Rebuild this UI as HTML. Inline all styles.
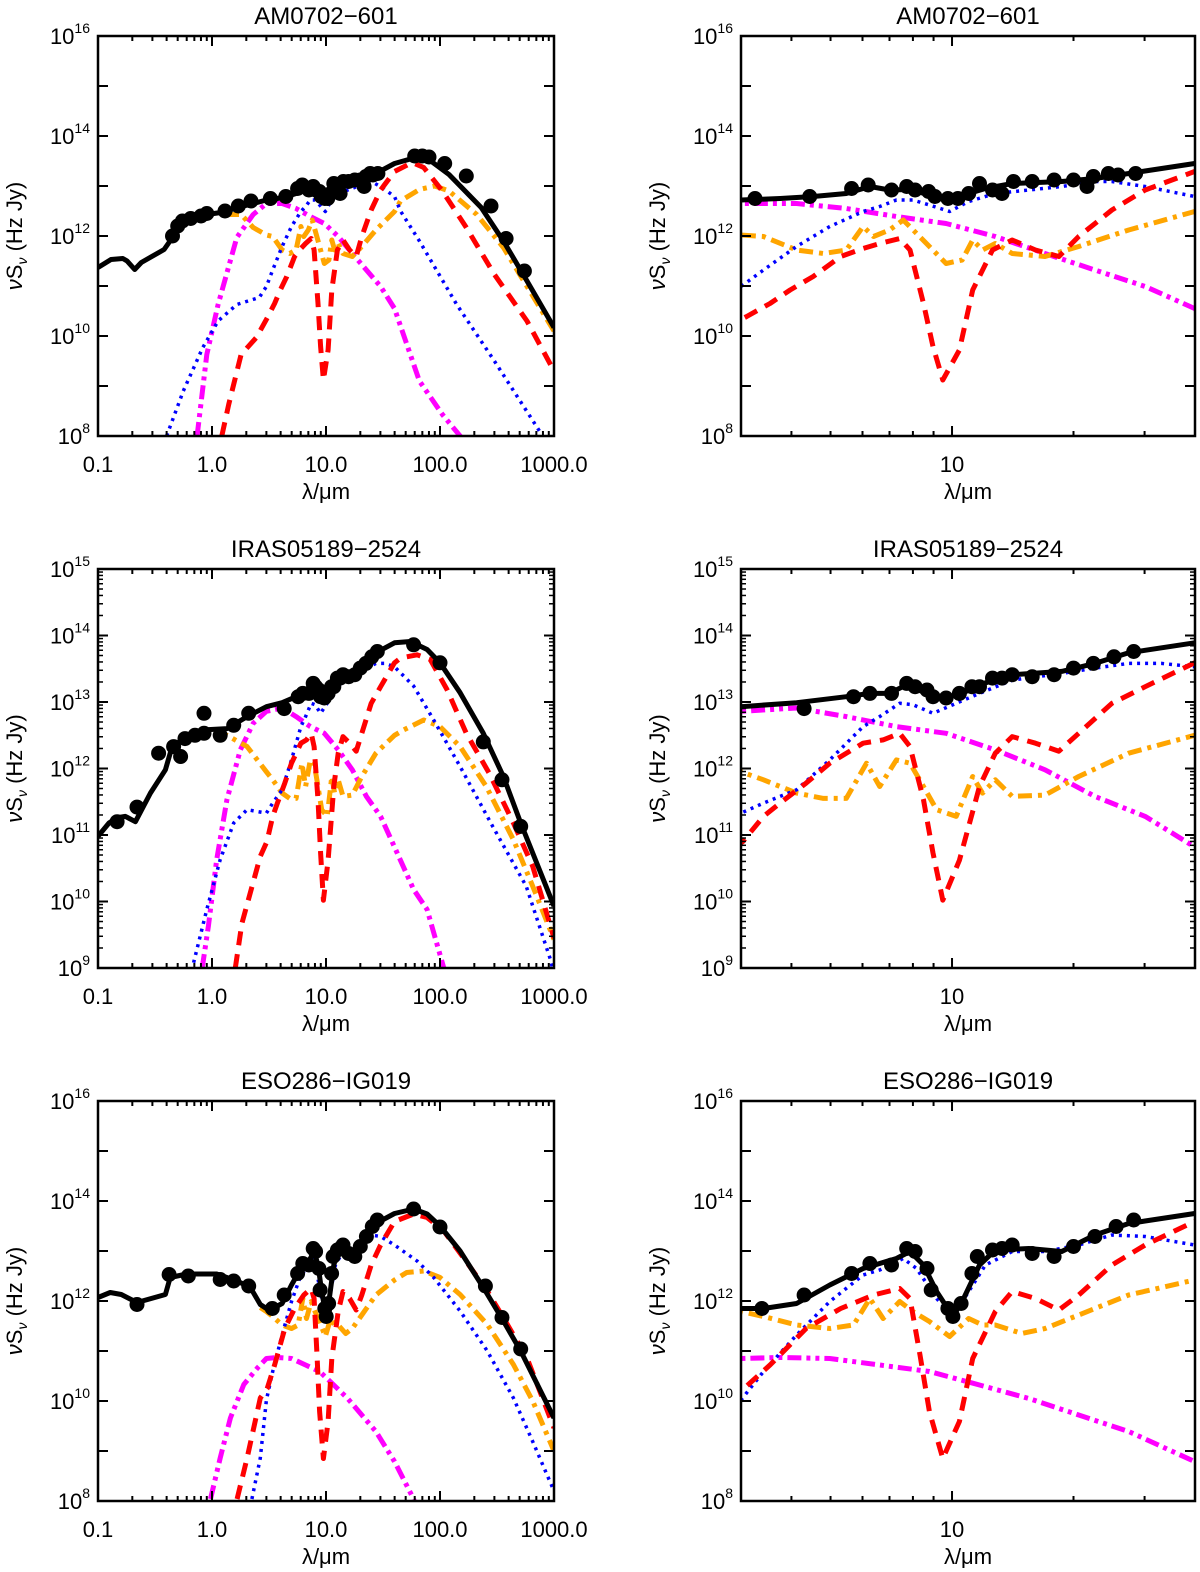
<!DOCTYPE html>
<html><head><meta charset="utf-8"><style>
body{margin:0;background:#fff}
svg{display:block;font-family:"Liberation Sans",sans-serif}
</style></head><body>
<svg id="fig" width="1200" height="1572" viewBox="0 0 1200 1572" xmlns="http://www.w3.org/2000/svg"></svg>
<script>
// ---------- data (lambda in micron, log10 nuSnu) ----------
const titles = ["AM0702\u2212601","IRAS05189\u22122524","ESO286\u2212IG019"];
const yRanges = [[8,16],[9,15],[8,16]];
const yLabelStep = [2,1,2];

const black1=[[0.1,11.37],[0.13,11.53],[0.165,11.55],[0.18,11.5],[0.21,11.33],[0.24,11.47],[0.38,11.73],[0.45,11.97],[0.56,12.3],[0.9,12.43],[1.2,12.47],[1.9,12.6],[3.0,12.72],[3.75,12.75],[4.53,12.79],[5.47,12.85],[6.26,12.99],[7.0,12.92],[7.87,12.93],[8.79,12.82],[9.86,12.69],[11.0,12.85],[12.1,12.95],[14.1,13.05],[18.7,13.09],[22.6,13.15],[27.4,13.25],[39.9,13.45],[57,13.55],[83,13.5],[120,13.23],[230,12.57],[360,11.9],[580,11.1],[1000,10.17]];
const pts1=[[0.45,12.0],[0.5,12.2],[0.55,12.3],[0.65,12.35],[0.8,12.4],[0.9,12.45],[1.3,12.5],[1.7,12.6],[2.2,12.7],[3.25,12.75],[4.44,12.79],[5.64,12.95],[6.2,13.02],[7.08,12.92],[7.72,12.99],[8.1,12.92],[8.75,12.89],[9.07,12.79],[9.77,12.75],[10.34,12.75],[11.0,12.85],[11.7,13.05],[12.6,12.92],[13.3,12.85],[14.2,13.09],[15.8,13.09],[17.9,13.12],[20.0,13.12],[21.6,12.99],[22.4,13.19],[24.4,13.25],[25.8,13.22],[28.5,13.25],[60,13.6],[70,13.6],[80,13.58],[110,13.45],[170,13.2],[280,12.6],[380,11.95],[550,11.3]];
const red1=[[1.22,8],[1.4,8.63],[1.8,9.63],[2.45,9.97],[3.1,10.39],[3.54,10.65],[3.97,10.92],[4.53,11.19],[5.3,11.59],[6.02,11.75],[6.62,11.85],[7.42,11.95],[7.87,11.72],[8.5,10.65],[8.97,9.79],[9.49,9.12],[10.43,9.72],[11.25,10.92],[12.6,11.72],[14.1,11.92],[16.1,11.72],[18.4,11.59],[20.6,11.99],[24.9,12.52],[30.1,12.92],[39.9,13.29],[57,13.47],[72,13.37],[105,12.9],[170,12.17],[300,11.23],[580,10.3],[1000,9.3]];
const blue1=[[0.4,8],[0.56,8.9],[0.83,9.77],[1.13,10.3],[1.65,10.63],[2.6,10.77],[3.0,10.99],[3.41,11.32],[4.12,11.79],[4.98,12.19],[6.02,12.49],[6.62,12.59],[7.28,12.72],[8.0,12.72],[8.79,12.62],[9.86,12.49],[11.0,12.69],[12.8,12.85],[15.5,12.92],[18.7,12.99],[22.6,13.09],[24.9,13.09],[30.1,12.99],[39.9,12.79],[45,12.5],[66,11.9],[140,10.63],[300,9.5],[780,8.03],[1000,7.6]];
const orange1=[[1.3,12.43],[1.8,12.43],[2.3,12.17],[3.0,12.02],[3.41,11.99],[4.12,11.72],[4.8,11.65],[5.47,11.72],[6.02,12.19],[6.39,11.99],[7.0,12.12],[7.57,12.32],[8.17,12.05],[8.79,11.79],[9.67,11.45],[10.6,11.52],[11.25,11.92],[11.9,11.72],[12.8,11.85],[14.1,11.65],[17.0,11.59],[20.6,11.79],[27.4,12.12],[39.9,12.49],[45,12.7],[66,12.93],[90,13.0],[120,12.9],[210,12.43],[360,11.77],[1000,10.1]];
const magenta1=[[0.74,8],[0.9,9.63],[1.13,10.63],[1.65,11.97],[2.3,12.43],[3.0,12.65],[4.12,12.65],[5.47,12.55],[7.28,12.39],[9.67,12.25],[12.8,11.99],[17.0,11.65],[22.6,11.32],[30.1,10.99],[39.9,10.55],[66,9.1],[105,8.43],[150,8],[200,7.5]];

const black2=[[0.1,10.98],[0.125,11.18],[0.147,11.26],[0.174,11.28],[0.213,11.2],[0.288,11.63],[0.39,11.98],[0.43,12.23],[0.56,12.48],[0.85,12.58],[1.35,12.6],[2.03,12.78],[3.0,12.93],[4.12,12.99],[5.47,13.08],[6.26,13.13],[7.0,13.13],[7.72,13.26],[8.79,13.11],[9.67,13.06],[10.6,13.13],[11.7,13.26],[14.1,13.41],[18.7,13.46],[22.6,13.58],[27.4,13.74],[39.9,13.89],[55,13.91],[77,13.79],[100,13.59],[150,13.14],[240,12.53],[360,11.88],[510,11.18],[1000,9.93]];
const pts2=[[0.147,11.2],[0.22,11.42],[0.34,12.23],[0.46,12.33],[0.53,12.18],[0.58,12.45],[0.71,12.5],[0.85,12.53],[0.85,12.83],[1.18,12.5],[1.55,12.65],[2.1,12.83],[4.3,12.9],[5.7,13.08],[6.26,13.13],[7.08,13.13],[7.72,13.28],[8.1,13.23],[8.67,13.18],[8.97,13.08],[9.67,13.06],[10.43,13.13],[11.2,13.23],[11.7,13.23],[12.6,13.36],[13.3,13.36],[14.1,13.41],[15.8,13.38],[17.9,13.41],[20.0,13.51],[22.4,13.58],[25.2,13.68],[28.2,13.76],[58.7,13.86],[100,13.59],[240,12.4],[350,11.83],[510,11.13]];
const red2=[[1.6,9.0],[1.83,9.67],[2.65,10.68],[3.03,10.9],[3.41,11.28],[3.75,11.48],[4.35,11.78],[4.98,12.08],[6.02,12.38],[6.75,12.43],[7.42,12.53],[7.87,12.33],[8.5,11.53],[8.97,10.73],[9.49,10.02],[10.43,10.62],[11.7,11.73],[12.8,12.23],[14.1,12.48],[16.1,12.38],[18.4,12.26],[20.6,12.53],[24.9,12.98],[30.1,13.23],[39.9,13.59],[45,13.66],[63,13.71],[82,13.64],[115,13.19],[170,12.53],[270,11.93],[440,11.18],[650,10.53],[1000,9.45]];
const blue2=[[0.69,9.08],[0.9,9.88],[1.18,10.63],[1.55,11.18],[2.03,11.38],[3.0,11.33],[3.41,11.48],[4.12,11.68],[4.98,12.13],[6.02,12.63],[6.62,12.78],[7.42,12.98],[8.0,12.96],[8.97,12.83],[10.24,12.98],[11.7,13.13],[14.1,13.33],[18.7,13.43],[22.6,13.51],[27.4,13.58],[33.0,13.58],[39.9,13.53],[58.7,13.24],[88,12.73],[150,12.03],[290,11.13],[570,10.23],[930,9.13],[1000,8.9]];
const orange2=[[1.03,12.53],[1.35,12.5],[2.03,12.33],[3.0,11.95],[3.41,11.83],[4.12,11.63],[4.8,11.55],[5.47,11.55],[6.14,12.08],[6.62,11.73],[7.28,12.13],[7.87,12.08],[8.5,11.73],[9.16,11.38],[10.24,11.28],[11.25,11.88],[11.9,11.63],[12.8,11.83],[14.1,11.58],[17.0,11.6],[20.6,11.88],[27.4,12.23],[39.9,12.5],[48,12.58],[72,12.73],[100,12.63],[150,12.33],[255,11.73],[440,10.93],[650,10.23],[1000,9.43]];
const magenta2=[[0.82,9.0],[0.93,9.63],[1.1,10.63],[1.35,11.53],[1.77,12.28],[2.3,12.68],[3.0,12.86],[4.12,12.91],[5.47,12.78],[7.28,12.63],[9.67,12.53],[12.8,12.28],[17.0,11.98],[22.6,11.58],[30.1,11.28],[39.9,10.82],[58.7,10.18],[77,9.88],[108,9.0],[130,8.5]];

const black3=[[0.1,12.07],[0.128,12.17],[0.16,12.13],[0.22,11.97],[0.39,12.13],[0.43,12.47],[0.6,12.54],[1.1,12.54],[1.66,12.4],[2.17,12.27],[2.65,11.93],[3.0,11.85],[3.41,11.85],[4.12,11.95],[4.98,12.32],[6.02,12.65],[7.28,12.85],[7.87,12.99],[8.5,12.72],[9.16,12.19],[10.05,11.69],[10.6,11.99],[11.7,12.72],[12.8,13.02],[15.5,13.05],[18.7,12.99],[22.6,13.32],[27.4,13.55],[39.9,13.75],[58.7,13.84],[77,13.74],[100,13.5],[150,13.0],[240,12.27],[360,11.6],[510,11.0],[1000,9.66]];
const pts3=[[0.22,11.93],[0.42,12.53],[0.62,12.5],[1.18,12.43],[1.55,12.4],[2.1,12.3],[3.38,11.85],[4.3,12.12],[5.64,12.55],[6.26,12.75],[7.08,12.72],[7.72,13.05],[8.1,12.99],[8.67,12.65],[8.88,12.22],[9.77,11.85],[10.05,11.69],[10.53,11.95],[11.2,12.55],[11.55,12.89],[12.6,13.02],[13.3,13.05],[14.1,13.12],[15.8,12.95],[17.9,12.89],[20.0,13.09],[22.6,13.29],[25.5,13.49],[28.2,13.62],[58.7,13.84],[100,13.48],[250,12.3],[350,11.67],[510,11.04]];
const red3=[[1.66,8.04],[2.03,8.86],[2.65,10.06],[3.05,10.25],[3.54,10.72],[4.35,11.45],[5.3,11.85],[6.39,12.12],[7.42,12.25],[7.87,12.05],[8.33,10.92],[8.79,9.79],[9.49,8.85],[10.43,9.59],[11.25,10.85],[12.8,11.79],[14.1,12.19],[16.1,12.05],[18.4,11.82],[20.6,12.12],[24.9,12.72],[30.1,13.12],[39.9,13.59],[58.7,13.74],[77,13.67],[108,13.4],[160,12.87],[260,12.2],[390,11.53],[580,10.86],[1000,9.46]];
const blue3=[[2.24,8.04],[2.65,8.86],[3.0,10.02],[3.41,10.59],[4.12,11.32],[4.98,11.99],[6.02,12.52],[6.62,12.62],[7.57,12.85],[8.17,12.65],[9.16,12.05],[10.05,11.69],[11.0,12.19],[12.1,12.72],[14.1,12.99],[17.0,12.99],[20.6,13.12],[24.9,13.32],[30.1,13.29],[39.9,13.12],[63,12.8],[88,12.47],[150,11.8],[260,11.0],[440,10.06],[650,9.19],[1000,8.2]];
const orange3=[[2.65,11.87],[3.0,11.79],[3.41,11.69],[4.12,11.52],[4.98,11.45],[5.7,11.52],[6.26,12.05],[6.75,11.65],[7.42,11.99],[8.0,11.79],[8.79,11.59],[9.86,11.29],[11.0,11.65],[11.9,11.52],[12.8,11.52],[14.9,11.35],[17.0,11.45],[20.6,11.72],[27.4,12.12],[39.9,12.42],[51,12.57],[72,12.6],[100,12.47],[150,12.13],[260,11.53],[440,10.73],[650,10.0],[1000,9.0]];
const magenta3=[[0.97,8.04],[1.18,8.86],[1.45,9.66],[1.9,10.33],[2.5,10.66],[3.0,10.85],[3.75,10.87],[4.98,10.85],[6.62,10.72],[8.79,10.59],[11.7,10.32],[15.5,10.05],[20.6,9.72],[27.4,9.39],[39.9,8.79],[58.7,8.04],[70,7.6]];

const leftTickLabels=["0.1","1.0","10.0","100.0","1000.0"];
const rightTickLabels=["10"];

// ---------- drawing ----------
const NS="http://www.w3.org/2000/svg";
const svg=document.getElementById('fig');
function mk(tag,attrs,parent){const e=document.createElementNS(NS,tag);for(const k in attrs)e.setAttribute(k,attrs[k]);(parent||svg).appendChild(e);return e;}

const rowsGeom=[[36,436],[569,968],[1101,1501]];
const colsGeom=[{x0:98,x1:554,lx0:-1,lx1:3},{x0:741,x1:1195,lx0:Math.log10(3),lx1:Math.log10(40)}];
const rowData=[
 {black:black1,pts:pts1,red:red1,blue:blue1,orange:orange1,magenta:magenta1},
 {black:black2,pts:pts2,red:red2,blue:blue2,orange:orange2,magenta:magenta2},
 {black:black3,pts:pts3,red:red3,blue:blue3,orange:orange3,magenta:magenta3}];
const styles={
 magenta:{c:'#ff00ff',w:5,d:'14 5 4 5 4 5'},
 orange:{c:'#ffa500',w:5,d:'14 6 4 6'},
 blue:{c:'#0000ff',w:3.5,d:'3 5'},
 red:{c:'#ff0000',w:5,d:'14 9'},
 black:{c:'#000',w:5,d:null}};

let clipId=0;
rowsGeom.forEach((rg,ri)=>{
 const [yt,yb]=rg; const [ymin,ymax]=yRanges[ri];
 const ys=v=>yb-(v-ymin)/(ymax-ymin)*(yb-yt);
 colsGeom.forEach((cg,ci)=>{
  const xs=l=>cg.x0+(Math.log10(l)-cg.lx0)/(cg.lx1-cg.lx0)*(cg.x1-cg.x0);
  const g=mk('g',{});
  
  
  const cx=(cg.x0+cg.x1)/2;
  const t=mk('text',{x:cx,y:yt-12,'text-anchor':'middle','font-size':24},g);
  t.textContent=titles[ri];
  
  
  // clip
  const cid='c'+(clipId++);
  const cp=mk('clipPath',{id:cid},g);
  mk('rect',{x:cg.x0,y:yt,width:cg.x1-cg.x0,height:yb-yt},cp);
  const pg=mk('g',{'clip-path':'url(#'+cid+')'},g);
  const d=rowData[ri];
  ['magenta','orange','blue','red'].forEach(k=>{
   const s=styles[k];
   const p=mk('polyline',{points:d[k].map(q=>xs(q[0]).toFixed(1)+','+ys(q[1]).toFixed(1)).join(' '),fill:'none',stroke:s.c,'stroke-width':s.w,'stroke-dasharray':s.d,'stroke-linejoin':'round'},pg);
   
   
  });
  const bl=mk('polyline',{points:d.black.map(q=>xs(q[0]).toFixed(1)+','+ys(q[1]).toFixed(1)).join(' '),fill:'none',stroke:'#000','stroke-width':5,'stroke-linejoin':'round'},pg);
  
  
  d.pts.forEach(q=>{
   const c=mk('circle',{cx:xs(q[0]).toFixed(1),cy:ys(q[1]).toFixed(1),r:7.5,fill:'#000'},pg);
   
   
  });
  // frame
  const fr=mk('rect',{x:cg.x0,y:yt,width:cg.x1-cg.x0,height:yb-yt,fill:'none',stroke:'#000','stroke-width':2.5},g);
  
  
  // x ticks
  const tk=[];
  if(ci===0){
   for(let e=-1;e<3;e++)for(let m=1;m<10;m++)tk.push([m*Math.pow(10,e),m===1]);
   tk.push([1000,true]);
  } else {
   [4,5,6,7,8,9,10,20,30].forEach(v=>tk.push([v,v===10]));
  }
  tk.forEach(([v,maj])=>{
   const x=xs(v); if(x<cg.x0-0.5||x>cg.x1+0.5)return;
   const L=maj?10:5;
   mk('line',{x1:x,y1:yb,x2:x,y2:yb-L,stroke:'#000','stroke-width':2},g);
   mk('line',{x1:x,y1:yt,x2:x,y2:yt+L,stroke:'#000','stroke-width':2},g);
  });
  const labs=ci===0?leftTickLabels:rightTickLabels;
  labs.forEach(s=>{
   const tx=mk('text',{x:xs(parseFloat(s)),y:yb+36,'text-anchor':'middle','font-size':22},g);
   tx.textContent=s;
   
   
  });
  const xt=mk('text',{x:cx,y:yb+63,'text-anchor':'middle','font-size':22},g);
  xt.textContent='\u03bb/\u03bcm';
  
  
  // y ticks
  for(let e=ymin;e<=ymax;e++){
   const y=ys(e);
   mk('line',{x1:cg.x0,y1:y,x2:cg.x0+10,y2:y,stroke:'#000','stroke-width':2},g);
   mk('line',{x1:cg.x1,y1:y,x2:cg.x1-10,y2:y,stroke:'#000','stroke-width':2},g);
   if(ri===1&&e<ymax){
    for(let m=2;m<10;m++){const yy=ys(e+Math.log10(m));
     mk('line',{x1:cg.x0,y1:yy,x2:cg.x0+5,y2:yy,stroke:'#000','stroke-width':1.5},g);
     mk('line',{x1:cg.x1,y1:yy,x2:cg.x1-5,y2:yy,stroke:'#000','stroke-width':1.5},g);}
   }
   if((e-ymin)%yLabelStep[ri]===0){
    const yl=mk('text',{x:cg.x0-8,y:y+8,'text-anchor':'end','font-size':22},g);
    const t1=mk('tspan',{},yl); t1.textContent='10';
    const t2=mk('tspan',{dy:-11,'font-size':14},yl); t2.textContent=String(e);
    
    
   }
  }
  const ycx=cg.x0-76, ycy=(yt+yb)/2;
  const yt2=mk('text',{x:ycx,y:ycy,'text-anchor':'middle','font-size':22,transform:'rotate(-90 '+ycx+' '+ycy+')'},g);
  const a=mk('tspan',{'font-style':'italic'},yt2); a.textContent='\u03bd';
  const b=mk('tspan',{},yt2); b.textContent='S';
  const c2=mk('tspan',{dy:5,'font-size':14,'font-style':'italic'},yt2); c2.textContent='\u03bd';
  const d2=mk('tspan',{dy:-5},yt2); d2.textContent=' (Hz  Jy)';
  
  
 });
});
</script>
</body></html>
